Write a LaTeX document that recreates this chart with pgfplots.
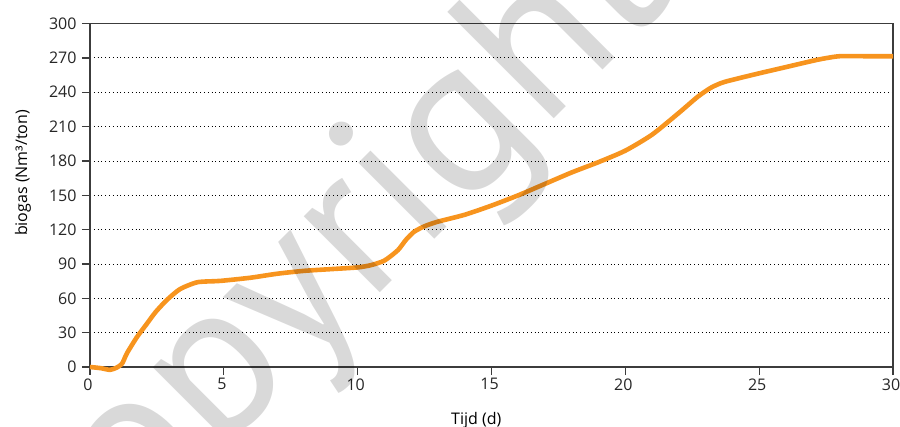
\documentclass[border=0pt]{standalone}
\usepackage{pgfplots}
\pgfplotsset{compat=1.18}
\usepackage{fontspec}
\setmainfont{Open Sans}
\newfontfamily\markfont{PT Sans}

\definecolor{gasorange}{RGB}{247,148,30}
\definecolor{axisgray}{RGB}{60,60,60}

\pgfplotstableread{
x     y
0     0
0.4   -1
0.75  -2.5
1.0   -0.5
1.2   3
1.38  12
1.75  26
2.1   37
2.45  48
2.87  58.5
3.36  68
4.0   74
4.7   75
5     75.5
6     78
7     81.5
8     84
9     85.5
10    87
10.5  89
11    93
11.5  102
11.8  111
12.1  118
12.5  123
13    127
14    133
15    141
16    150
17    160
18    170
19    179
20    189
21    203
22    222
22.7  236
23.2  244
23.7  249
24.9  256
26    262
27.2  268.5
28    271.5
29    271.5
30    271.5
}\biogas

\begin{document}
\begin{tikzpicture}
\begin{axis}[
    at={(0,0)}, anchor=origin,
    scale only axis,
    width=803bp, height=343.4bp,
    xmin=0, xmax=30, ymin=0, ymax=300,
    clip=false,
    xtick={0,5,...,30},
    ytick={0,30,...,300},
    xtick pos=bottom, ytick pos=left,
    tick align=outside,
    major tick length=8bp,
    tick style={axisgray, line width=1.2bp},
    axis line style={axisgray, line width=1.3bp},
    ymajorgrids,
    major grid style={black, line width=0.9bp, dash pattern=on 0.9bp off 2.9bp},
    font=\fontsize{16bp}{19bp}\selectfont,
    /pgf/number format/assume math mode=true,
    ticklabel style={text=black!85},
    yticklabel style={xshift=-2bp},
    xticklabel style={xshift=-2bp},
    xlabel={Tijd (d)},
    ylabel={biogas (Nm³/ton)},
    xlabel style={at={(axis description cs:0.481,-0.166)}, anchor=base},
    ylabel style={at={(axis description cs:-0.0834,0.565)}, anchor=center},
]
\addplot[gasorange, line width=4.6bp, smooth, tension=0.4] table[x=x, y=y] {\biogas};
\node[overlay, rotate=45, text=black, text opacity=0.15,
      font=\fontsize{215bp}{215bp}\markfont]
  at (axis cs:9.2,92) {copyright};
\end{axis}
\pgfresetboundingbox
\useasboundingbox (-90bp,-60bp) rectangle (810bp,367bp);
\end{tikzpicture}
\end{document}
